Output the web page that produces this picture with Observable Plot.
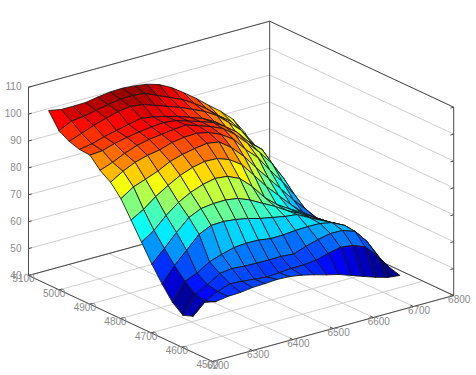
<!DOCTYPE html>
<html><head><meta charset="utf-8">
<script src="https://cdn.jsdelivr.net/npm/d3@7"></script>
<script src="https://cdn.jsdelivr.net/npm/@observablehq/plot@0.6"></script>
<style>html,body{margin:0;padding:0;background:#fff}svg{display:block}</style>
</head><body><div id="chart"></div>
<script>
const xTicks=[6200,6300,6400,6500,6600,6700,6800];
const yTicks=[4500,4600,4700,4800,4900,5000,5100];
const zTicks=[40,50,60,70,80,90,100,110];
const surfaceX=[6250,6281,6311,6342,6372,6403,6433,6464,6494,6525,6556,6586,6617,6647,6678,6708,6739];
const surfaceY=[4595,4629,4662,4696,4730,4763,4797,4831,4864,4898,4932,4965,4999,5033,5066,5100];
const surfaceZ=[
[54.8,53.9,54.6,54.8,55.4,55.6,55.9,55.7,55,53.9,52.6,51.5,49.9,48.3,46.7,45.4,44.9],
[47.9,52.2,54.6,56.2,55.9,55.4,55,55.3,55.7,55.7,56.2,57.5,58.5,58,56.2,51.8,46],
[46.5,53,55.4,58.3,58.9,58.5,58.4,58.3,58.4,58,59.6,60.9,61.9,61.8,60.2,55.2,48],
[49.5,56,57.9,60.8,62.3,63.6,64,63.9,63.2,63.3,63.7,63.9,63.8,62.9,60.6,56.7,50],
[54.5,60.1,64.5,69.2,71.3,71.5,71,70.1,68.9,68,67.1,66.6,64.1,61.9,59.7,56.8,51],
[60.1,64.7,69.4,73.7,75.8,76.4,76.5,75.8,74,71.5,69.1,66.3,64,60.9,58.5,56.1,51],
[66.5,69.6,73.9,77.5,80,81.7,82.7,82.2,80.2,76,70.6,66.8,63.9,61.3,58.2,55.7,51.5],
[72.9,75.6,79.1,82,84.5,86.2,87.2,87,85.4,82.3,77,71.7,67,62.5,58.2,55.1,52.4],
[79.1,82.2,83.8,85.6,87.9,89.3,90.2,90.9,90.2,86.8,82.3,76.9,71.6,66.6,61.3,56.7,51.7],
[83.4,86.2,88.3,89.6,90.4,91.9,92.6,92.8,91.9,89.9,86.8,81.8,77.5,71.5,66,60,51],
[86,87.7,89.8,91.5,92.5,93.1,93.7,94.1,92.6,91,89,85.6,81,76.4,71,64,51.5],
[89.9,90.3,91.7,92.7,93.5,94.1,94.5,94,92.6,91.1,89.5,86.8,83.3,78.3,74.5,67,53.8],
[90.2,91,92.4,93.5,94.5,95.5,94.8,93.7,92.5,90.9,89.2,86.8,83,78.8,75,68.5,56.4],
[91.4,93.1,94.8,96.2,97.5,98.1,97.6,96,94.4,92.8,90.8,88.8,86,82.2,78,72,61.3],
[93.6,95.9,96.4,97.4,98.3,99,99.2,98.7,96.7,94.7,92.7,90,86.8,83,79.5,74,65.8],
[99.3,98.4,98.4,98.5,99.3,99.9,100.1,99.7,99.1,97.7,95.3,92.2,88.8,85.1,81.5,77.4,71]
];
const WIDTH=476, HEIGHT=375;
const view={ox:212,oy:361,xx:.402,xy:-.11,yx:-.3067,yy:-.1433,zy:-2.69};
const proj=(x,y,z)=>[view.ox+view.xx*(x-6200)+view.yx*(y-4500), view.oy+view.xy*(x-6200)+view.yy*(y-4500)+view.zy*(z-40)];
const seg=(a,b)=>{const p=proj(...a),q=proj(...b);return {x1:p[0],y1:p[1],x2:q[0],y2:q[1]};};

const polys=[];
let id=0;
for(let j=surfaceY.length-2;j>=0;j--)for(let i=surfaceX.length-2;i>=0;i--){
  const c=surfaceZ[j][i];
  for(const [a,b] of [[i,j],[i+1,j],[i+1,j+1],[i,j+1],[i,j]]){
    const p=proj(surfaceX[a],surfaceY[b],surfaceZ[b][a]);
    polys.push({id,c,px:p[0],py:p[1]});
  }
  id++;
}
const jet=t=>{const f=v=>Math.round(255*Math.max(0,Math.min(1,1.5-Math.abs(4*t-v))));return `rgb(${f(3)},${f(2)},${f(1)})`;};

const grid=[
 ...xTicks.map(x=>seg([x,4500,40],[x,5100,40])),
 ...yTicks.map(y=>seg([6200,y,40],[6800,y,40])),
 ...zTicks.map(z=>seg([6200,5100,z],[6800,5100,z])),
 ...zTicks.map(z=>seg([6800,5100,z],[6800,4500,z]))
];
const box=[
 seg([6200,5100,40],[6200,5100,110]),seg([6800,5100,40],[6800,5100,110]),seg([6800,4500,40],[6800,4500,110]),
 seg([6200,5100,110],[6800,5100,110]),seg([6800,5100,110],[6800,4500,110]),
 seg([6200,5100,40],[6800,5100,40]),seg([6800,5100,40],[6800,4500,40]),
 seg([6200,5100,40],[6200,4500,40]),seg([6200,4500,40],[6800,4500,40]),
 ...zTicks.map(z=>seg([6200,5100,z],[6208,5100,z])),
 ...zTicks.map(z=>seg([6800,4500,z],[6792,4500,z])),
 ...xTicks.map(x=>seg([x,4500,40],[x,4510,40])),
 ...yTicks.map(y=>seg([6200,y,40],[6208,y,40]))
];
const lab=(arr,f)=>arr.map(v=>{const p=f(v);return {px:p[0],py:p[1],t:String(v)};});
const font={fontFamily:"'Liberation Sans',Arial,sans-serif",fontSize:10,fill:"#8a8a8a"};
const chart=Plot.plot({
  width:WIDTH,height:HEIGHT,margin:0,
  x:{domain:[0,WIDTH],range:[0,WIDTH],axis:null},
  y:{domain:[0,HEIGHT],range:[0,HEIGHT],axis:null},
  color:{type:"linear",domain:[45,100.5],interpolate:jet,clamp:true},
  style:{background:"#fff"},
  marks:[
    Plot.link(grid,{x1:"x1",y1:"y1",x2:"x2",y2:"y2",stroke:"#cacaca",strokeWidth:.9}),
    Plot.link(box,{x1:"x1",y1:"y1",x2:"x2",y2:"y2",stroke:"#4a4a4a",strokeWidth:1}),
    Plot.line(polys,{x:"px",y:"py",z:"id",fill:"c",stroke:"#141414",strokeWidth:.85,curve:"linear"}),
    Plot.text(lab(zTicks,z=>proj(6200,5100,z)),{x:"px",y:"py",text:"t",textAnchor:"end",dx:-7,...font}),
    Plot.text(lab(xTicks,x=>proj(x,4500,40)),{x:"px",y:"py",text:"t",dx:5.5,dy:4.5,...font}),
    Plot.text(lab(yTicks,y=>proj(6200,y,40)),{x:"px",y:"py",text:"t",dx:-5,dy:3.5,...font})
  ]
});
document.getElementById("chart").appendChild(chart);
</script></body></html>
